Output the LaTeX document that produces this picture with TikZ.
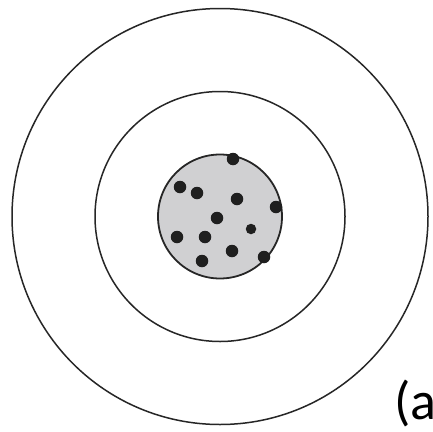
\documentclass[tikz,border=0pt]{standalone}
\usepackage{fontspec}
\newfontfamily\labelfont{Carlito}
\begin{document}
\begin{tikzpicture}[x=1pt,y=-1pt,
  ring/.style={draw=black!85,line width=1.5pt},
  core/.style={draw=black!85,line width=1.8pt,fill={rgb,255:red,208;green,208;blue,210}},
  dot/.style={circle,fill=black!88,inner sep=0pt,minimum size=12.5pt}]
\useasboundingbox (0,0) rectangle (433,431);
\clip (0,0) rectangle (433,431);
\fill[white] (0,0) rectangle (433,431);
\coordinate (c) at (220,216.5);
\draw[ring] (c) circle[radius=208];
\draw[ring] (c) circle[radius=125];
\draw[core] (c) circle[radius=62];
\node[dot] (d1) at (233,159) {};
\node[dot] (d2) at (180,187) {};
\node[dot] (d3) at (197,193) {};
\node[dot] (d4) at (237,199) {};
\node[dot] (d5) at (276,207) {};
\node[dot] (d6) at (217,218) {};
\node[dot] (d7) at (177,237) {};
\node[dot] (d8) at (205,237) {};
\node[dot,minimum size=10.5pt] (d9) at (251,229) {};
\node[dot] (d10) at (232,251) {};
\node[dot] (d11) at (202,261) {};
\node[dot] (d12) at (264,257) {};
\node[anchor=base west,inner sep=0pt,font=\labelfont\fontsize{54}{54}\selectfont] (lbl) at (394,419) {(a};
\end{tikzpicture}
\end{document}
